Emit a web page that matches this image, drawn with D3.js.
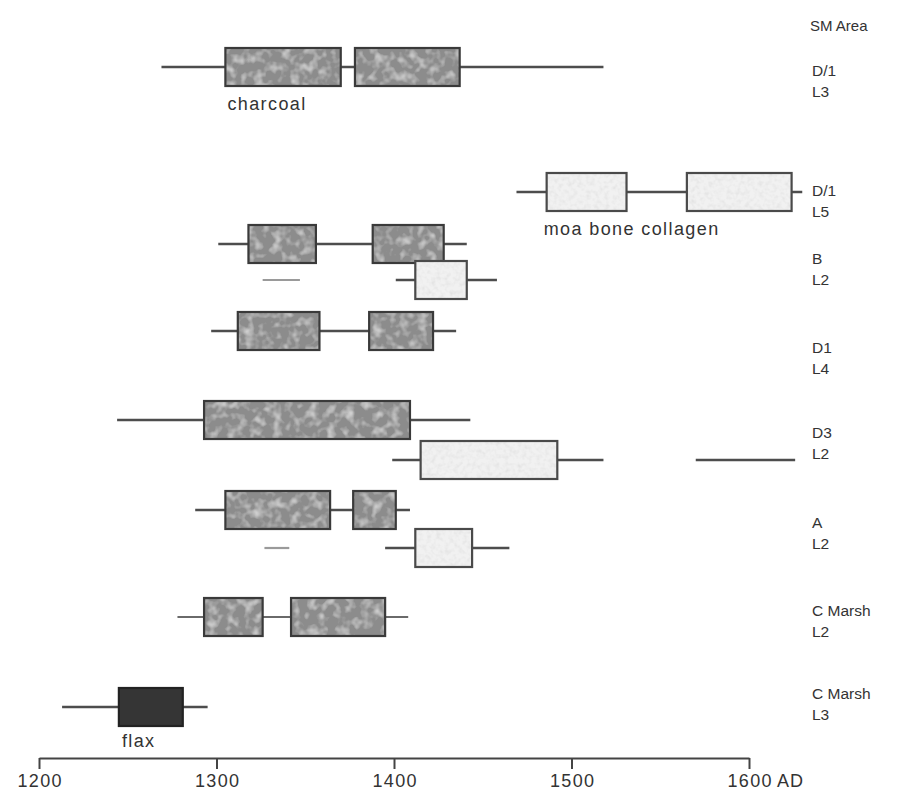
<!DOCTYPE html>
<html>
<head>
<meta charset="utf-8">
<script src="https://cdn.jsdelivr.net/npm/d3@7"></script>
<style>
  html, body { margin: 0; padding: 0; background: #fff; }
  svg { display: block; }
  text { font-family: "Liberation Sans", Arial, Helvetica, sans-serif; fill: #333; }
</style>
</head>
<body>
<div id="chart"></div>
<script>
// ---------------- DATA ----------------
// tracks (one horizontal line of dates each)
const tracks = ["D1L3-c", "D1L5-m", "BL2-c", "BL2-m", "D1L4-c", "D3L2-c", "D3L2-m", "AL2-c", "AL2-m", "CML2-c", "CML3-f"];
const trackMaterial = ["charcoal", "collagen", "charcoal", "collagen", "charcoal", "charcoal", "collagen", "charcoal", "collagen", "charcoal", "flax"];
// full calibrated range (years AD)
const rangeFrom = [1269, 1469, 1301, 1401, 1297, 1244, 1399, 1288, 1395, 1278, 1213];
const rangeTo   = [1518, 1630, 1441, 1458, 1435, 1443, 1518, 1409, 1465, 1408, 1295];
// boxed (high probability) intervals per track
const boxIntervals = [
  [[1305, 1370], [1378, 1437]],
  [[1486, 1531], [1565, 1624]],
  [[1318, 1356], [1388, 1428]],
  [[1412, 1441]],
  [[1312, 1358], [1386, 1422]],
  [[1293, 1409]],
  [[1415, 1492]],
  [[1305, 1364], [1377, 1401]],
  [[1412, 1444]],
  [[1293, 1326], [1342, 1395]],
  [[1245, 1281]]
];
// additional isolated intervals
const extraTrack = ["BL2-m", "AL2-m", "D3L2-m"];
const extraFrom  = [1326, 1327, 1570];
const extraTo    = [1347, 1341, 1626];
const extraKind  = ["faint", "faint", "solid"];
// site labels (right side)
const siteLabels = [["D/1", "L3"], ["D/1", "L5"], ["B", "L2"], ["D1", "L4"], ["D3", "L2"], ["A", "L2"], ["C Marsh", "L2"], ["C Marsh", "L3"]];
const siteHeader = "SM Area";
// material annotations
const noteTrack = ["D1L3-c", "D1L5-m", "CML3-f"];
const noteText  = ["charcoal", "moa bone collagen", "flax"];
// axis
const xTicks = [1200, 1300, 1400, 1500, 1600];
const xDomain = [1200, 1600];
const axisUnit = "AD";

// ---------------- LAYOUT ----------------
const W = 908, H = 803;
const svg = d3.select("#chart").append("svg").attr("width", W).attr("height", H);

const x = d3.scaleLinear().domain(xDomain).range([39, 749]);
const y = d3.scaleOrdinal().domain(tracks)
  .range([67, 192, 244, 280, 331, 420, 460, 510, 548, 617, 707]);
const labelY = d3.scaleOrdinal().domain(d3.range(siteLabels.length))
  .range([70, 190, 258, 347, 432, 522, 610, 693]);
const boxH = 38;

// texture filter
const defs = svg.append("defs");
function speckle(id, freq, color, alphaScale, alphaOffset, seed) {
  const f = defs.append("filter").attr("id", id)
    .attr("x", 0).attr("y", 0).attr("width", 1).attr("height", 1);
  f.append("feTurbulence").attr("type", "fractalNoise")
    .attr("baseFrequency", freq).attr("numOctaves", 2).attr("seed", seed).attr("result", "noise");
  const c = d3.color(color);
  const r = c.r / 255, g = c.g / 255, b = c.b / 255;
  f.append("feColorMatrix").attr("in", "noise").attr("type", "matrix")
    .attr("values", `0 0 0 0 ${r}  0 0 0 0 ${g}  0 0 0 0 ${b}  ${alphaScale} 0 0 0 ${alphaOffset}`)
    .attr("result", "spots");
  f.append("feComposite").attr("in", "spots").attr("in2", "SourceGraphic").attr("operator", "in").attr("result", "clipped");
  const m = f.append("feMerge");
  m.append("feMergeNode").attr("in", "SourceGraphic");
  m.append("feMergeNode").attr("in", "clipped");
}
speckle("spDark", 0.11, "#ababab", 2.2, -1.0, 4);
speckle("spLight", 0.22, "#c4c4c4", 2.2, -0.95, 7);

const style = {
  charcoal: { fill: "#8c8c8c", stroke: "#3a3a3a", filter: "url(#spDark)" },
  collagen: { fill: "#f1f1f1", stroke: "#4a4a4a", filter: "url(#spLight)" },
  flax:     { fill: "#353535", stroke: "#222222", filter: null }
};

// ---------------- RANGES ----------------
const g = svg.append("g");
tracks.forEach((t, i) => {
  const faintLine = t === "CML2-c";
  g.append("line")
    .attr("x1", x(rangeFrom[i])).attr("x2", x(rangeTo[i]))
    .attr("y1", y(t)).attr("y2", y(t))
    .attr("stroke", faintLine ? "#6a6a6a" : "#4d4d4d")
    .attr("stroke-width", faintLine ? 1.8 : 2.6);
});
extraTrack.forEach((t, i) => {
  g.append("line")
    .attr("x1", x(extraFrom[i])).attr("x2", x(extraTo[i]))
    .attr("y1", y(t)).attr("y2", y(t))
    .attr("stroke", extraKind[i] === "faint" ? "#9a9a9a" : "#4d4d4d")
    .attr("stroke-width", extraKind[i] === "faint" ? 2.2 : 2.6);
});

// ---------------- BOXES ----------------
tracks.forEach((t, i) => {
  const s = style[trackMaterial[i]];
  boxIntervals[i].forEach(([a, b]) => {
    const r = g.append("rect")
      .attr("x", x(a)).attr("y", y(t) - boxH / 2)
      .attr("width", x(b) - x(a)).attr("height", boxH)
      .attr("fill", s.fill);
    if (s.filter) r.attr("filter", s.filter);
    g.append("rect")
      .attr("x", x(a)).attr("y", y(t) - boxH / 2)
      .attr("width", x(b) - x(a)).attr("height", boxH)
      .attr("fill", "none").attr("stroke", s.stroke).attr("stroke-width", 2.2);
  });
});

// ---------------- ANNOTATIONS ----------------
const noteOffsetX = [2, -3, 3];
const noteOffsetY = [43, 43, 40];
noteTrack.forEach((t, i) => {
  const ti = tracks.indexOf(t);
  g.append("text")
    .attr("x", x(boxIntervals[ti][0][0]) + noteOffsetX[i])
    .attr("y", y(t) + noteOffsetY[i])
    .attr("font-size", 18)
    .attr("letter-spacing", 1.4)
    .text(noteText[i]);
});

// right labels
svg.append("text").attr("x", 810).attr("y", 31).attr("font-size", 15).text(siteHeader);
siteLabels.forEach((lab, i) => {
  const tx = svg.append("text").attr("x", 812).attr("y", labelY(i) + 6).attr("font-size", 15.5);
  tx.append("tspan").attr("x", 812).text(lab[0]);
  tx.append("tspan").attr("x", 812).attr("dy", 21).text(lab[1]);
});

// ---------------- AXIS ----------------
const axis = d3.axisBottom(x).tickValues(xTicks).tickSize(11).tickSizeOuter(0).tickPadding(5)
  .tickFormat(d3.format("d"));
const ax = svg.append("g").attr("transform", "translate(0,758)").call(axis);
ax.select(".domain").attr("stroke", "#444").attr("stroke-width", 2);
ax.selectAll(".tick line").attr("stroke", "#444").attr("stroke-width", 2);
ax.selectAll(".tick text").attr("font-size", 18).attr("fill", "#333")
  .attr("letter-spacing", 1.4).attr("dx", 0.7)
  .attr("font-family", "Liberation Sans, Arial, sans-serif");
svg.append("text").attr("x", x(xTicks[xTicks.length - 1]) + 28).attr("y", 758 + 16)
  .attr("dy", "0.71em").attr("font-size", 18).attr("letter-spacing", 1).text(axisUnit);
</script>
</body>
</html>
